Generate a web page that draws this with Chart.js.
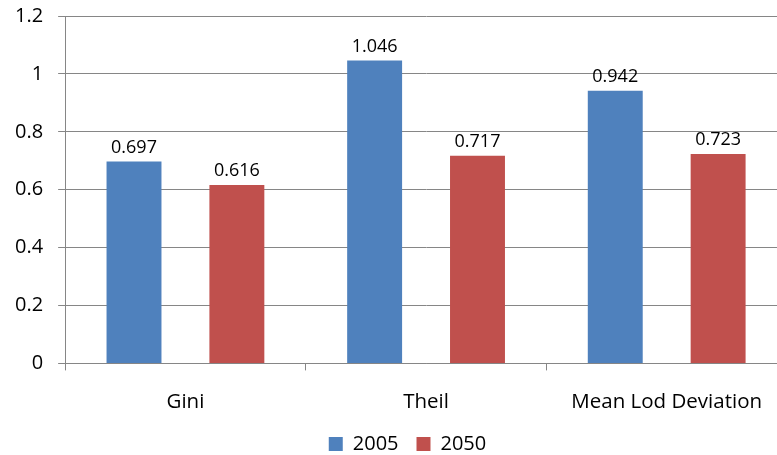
<!DOCTYPE html>
<html>
<head>
<meta charset="utf-8">
<script src="https://cdn.jsdelivr.net/npm/chart.js@4.4.0/dist/chart.umd.min.js"></script>
<style>
    body { margin: 0; overflow: hidden; background: #fff; }
    #wrap { width: 814px; height: 494px; margin-top: -11px; }
</style>
</head>
<body>
<div id="wrap"><canvas id="myChart"></canvas></div>

<script>
    // data
    var categories = ['Gini', 'Theil', 'Mean Lod Deviation'];
    var values2005 = [0.697, 1.046, 0.942];
    var values2050 = [0.616, 0.717, 0.723];
    var yTicks = [0, 0.2, 0.4, 0.6, 0.8, 1, 1.2];

    var fontName = '"Open Sans", sans-serif';

    // labels on top of each bar
    var barLabels = {
        id: 'barLabels',
        afterDatasetsDraw: function (chart) {
            var ctx = chart.ctx;
            ctx.save();
            ctx.font = '18px ' + fontName;
            ctx.fillStyle = '#000';
            ctx.textAlign = 'center';
            ctx.textBaseline = 'bottom';
            chart.data.datasets.forEach(function (ds, i) {
                chart.getDatasetMeta(i).data.forEach(function (bar, j) {
                    ctx.fillText(ds.data[j].toFixed(3), bar.x, bar.y - 5);
                });
            });
            ctx.restore();
        }
    };

    // nudge the legend a bit right and up
    var moveLegend = {
        id: 'moveLegend',
        afterLayout: function (chart) {
            var lg = chart.legend;
            lg.left += 14; lg.right += 14;
            lg.top -= 17; lg.bottom -= 17;
        }
    };

    var ctx = document.getElementById('myChart').getContext('2d');
    var myChart = new Chart(ctx, {
        type: 'bar',
        data: {
            labels: categories,
            datasets: [{
                label: '2005',
                data: values2005,
                backgroundColor: '#4F81BD',
                categoryPercentage: 0.855,
                barPercentage: 0.534
            }, {
                label: '2050',
                data: values2050,
                backgroundColor: '#C0504D',
                categoryPercentage: 0.855,
                barPercentage: 0.534
            }]
        },
        options: {
            responsive: true,
            maintainAspectRatio: false,
            animation: false,
            layout: { padding: { top: 0, right: 27, left: 0, bottom: 2 } },
            scales: {
                x: {
                    grid: {
                        offset: true,
                        drawOnChartArea: false,
                        tickLength: 7,
                        color: '#868686'
                    },
                    border: { color: '#868686' },
                    ticks: {
                        color: '#000',
                        font: { family: fontName, size: 20.5 },
                        maxRotation: 0,
                        padding: 19
                    }
                },
                y: {
                    min: 0,
                    max: 1.2,
                    afterBuildTicks: function (axis) {
                        axis.ticks = yTicks.map(function (v) { return { value: v }; });
                    },
                    grid: { color: '#868686', tickLength: 7 },
                    border: { color: '#868686' },
                    ticks: {
                        color: '#000',
                        font: { family: fontName, size: 20 },
                        padding: 15,
                        callback: function (v) { return String(Math.round(v * 10) / 10); }
                    }
                }
            },
            plugins: {
                legend: {
                    position: 'bottom',
                    labels: {
                        color: '#000',
                        font: { family: fontName, size: 20 },
                        boxWidth: 14,
                        boxHeight: 14,
                        padding: 18
                    }
                },
                tooltip: { enabled: false }
            }
        },
        plugins: [barLabels, moveLegend]
    });
</script>
</body>
</html>
